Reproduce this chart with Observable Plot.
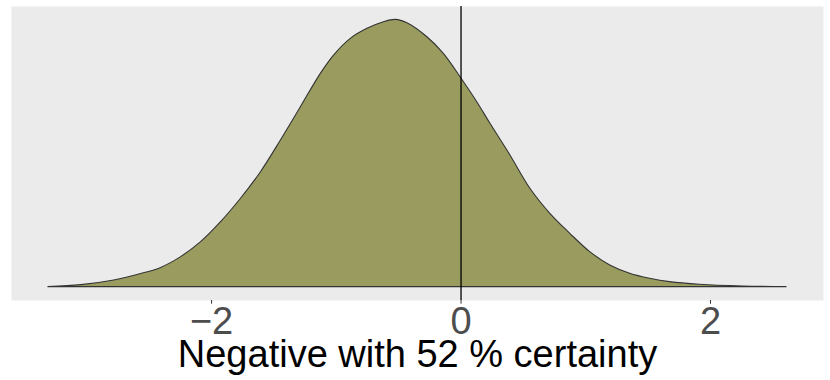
<!DOCTYPE html>
<html>
<head>
<meta charset="utf-8">
<script src="https://cdn.jsdelivr.net/npm/d3@7"></script>
<script src="https://cdn.jsdelivr.net/npm/@observablehq/plot@0.6"></script>
<style>
  html, body { margin: 0; padding: 0; background: #ffffff; }
  #chart { width: 830px; height: 380px; }
</style>
</head>
<body>
<div id="chart"></div>
<script>
// Density curve (x value, density)
const xValues = [-3.308, -3.044, -2.78, -2.564, -2.404, -2.244, -2.084, -1.924, -1.764, -1.604,
  -1.444, -1.284, -1.124, -1.018, -0.884, -0.75, -0.618, -0.524, -0.43, -0.27,
  -0.138, -0.004, 0.13, 0.236, 0.396, 0.556, 0.716, 0.876, 1.036, 1.196,
  1.356, 1.516, 1.676, 1.916, 2.26, 2.61];
const densityValues = [0.0, 0.0037, 0.0125, 0.0245, 0.036, 0.0561, 0.0841, 0.1215, 0.1653, 0.215,
  0.2743, 0.3366, 0.399, 0.4332, 0.4645, 0.4832, 0.4955, 0.5, 0.4936, 0.4675,
  0.4364, 0.3927, 0.346, 0.3055, 0.2463, 0.184, 0.1372, 0.0998, 0.0654, 0.0406,
  0.0251, 0.0157, 0.0093, 0.0045, 0.0013, 0.0];
const referenceLine = [0];
const xTicks = [-2, 0, 2];
const xTitle = ["Negative with 52 % certainty"];

const data = xValues.map((x, i) => ({x, y: densityValues[i]}));

const [xmin, xmax] = d3.extent(xValues);
const xpad = (xmax - xmin) * 0.05;
const ymax = d3.max(densityValues);

const chart = Plot.plot({
  width: 830,
  height: 380,
  marginLeft: 11,
  marginRight: 7,
  marginTop: 6,
  marginBottom: 80,
  style: {fontFamily: "'Liberation Sans', Arial, sans-serif", fontSize: "38px", color: "#4D4D4D", background: "#ffffff"},
  x: {domain: [xmin - xpad, xmax + xpad]},
  y: {domain: [-0.05 * ymax, 1.05 * ymax], axis: null},
  marks: [
    Plot.frame({fill: "#EBEBEB", stroke: null}),
    Plot.areaY(data, {x: "x", y: "y", fill: "#999C5E", stroke: "#333333", strokeWidth: 1.1, curve: "catmull-rom"}),
    Plot.ruleX(referenceLine, {stroke: "#000000", strokeWidth: 1.3}),
    Plot.axisX({ticks: xTicks, tickFormat: d3.format("d"), tickSize: 3.7, tickPadding: 2.5, label: null, stroke: "#333333", fill: "#4D4D4D", fontSize: 38}),
    Plot.text(xTitle, {text: d => d, frameAnchor: "bottom", dy: 66, fill: "#000000", fontSize: 38})
  ]
});
document.getElementById("chart").appendChild(chart);
</script>
</body>
</html>
